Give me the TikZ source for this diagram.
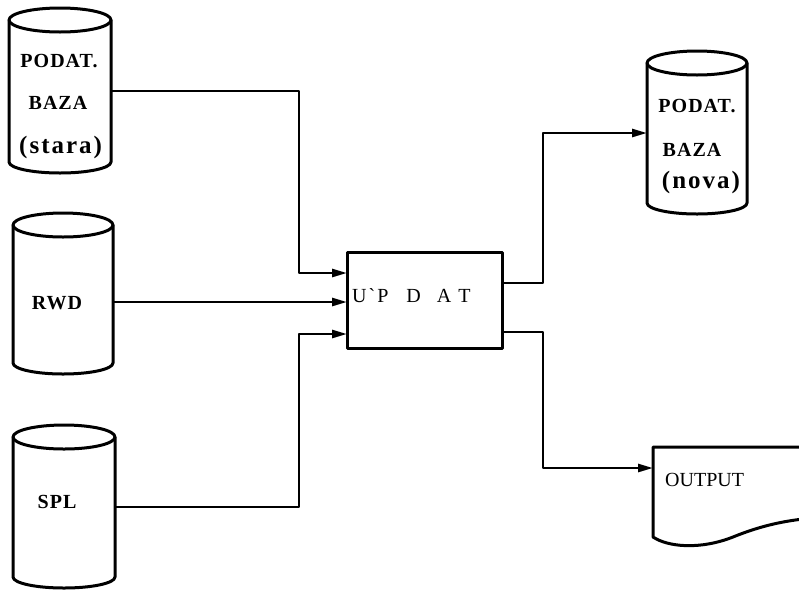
\documentclass[tikz,border=0pt]{standalone}
\usepackage{fontspec}
\setmainfont{Liberation Serif}
\newfontfamily\labelfont{Liberation Serif}[LetterSpace=5]
\newfontfamily\widefont{Liberation Serif}[LetterSpace=8]
\usetikzlibrary{arrows.meta,calc}

% outline of a disk-store cylinder around a body node: #1 node name, #2 half width
\newcommand\dbcylinder[2]{%
  \draw[outline] (#1.north west) -- (#1.south west)
    arc[start angle=180,end angle=360,x radius=#2,y radius=11pt]
    -- (#1.north east)
    arc[start angle=0,end angle=180,x radius=#2,y radius=12pt] -- cycle;
  \draw[outline] (#1.north west)
    arc[start angle=180,end angle=360,x radius=#2,y radius=12pt];}

\begin{document}
\begin{tikzpicture}[x=1pt,y=-1pt,
  outline/.style={line width=3pt,line join=round},
  wire/.style={line width=2.6pt,line join=round},
  arr/.style={wire,-{Triangle[length=15pt,width=8pt]}},
  body/.style={rectangle,inner sep=0pt,outer sep=0pt},
  lbl/.style={font=\labelfont\bfseries\fontsize{20}{22}\selectfont,inner sep=0pt,anchor=base},
  wlbl/.style={font=\widefont\bfseries\fontsize{25}{27}\selectfont,inner sep=0pt,anchor=base},
  plain/.style={font=\fontsize{20}{22}\selectfont,inner sep=0pt,anchor=base west}]
\useasboundingbox (0,0) rectangle (799,590);

% stores
\node[body,minimum width=102pt,minimum height=142pt] (c1) at (60,91) {};
\node[body,minimum width=100pt,minimum height=138pt] (c2) at (63,294) {};
\node[body,minimum width=102pt,minimum height=140pt] (c3) at (64,507) {};
\node[body,minimum width=100pt,minimum height=140pt] (c4) at (697,133) {};
\dbcylinder{c1}{51pt}
\dbcylinder{c2}{50pt}
\dbcylinder{c3}{51pt}
\dbcylinder{c4}{50pt}

\node[lbl] (c1a) at (59,67) {PODAT.};
\node[lbl] (c1b) at (58,109) {BAZA};
\node[wlbl,anchor=base west] (c1c) at (19,153) {(stara)};
\node[lbl] (c2a) at (57,309) {RWD};
\node[lbl] (c3a) at (57,508) {SPL};
\node[lbl] (c4a) at (697,112) {PODAT.};
\node[lbl] (c4b) at (692,156) {BAZA};
\node[wlbl] (c4c) at (701,188) {(nova)};

% program box
\node[body,draw,outline,minimum width=155pt,minimum height=96pt] (upd) at (424.5,300) {};
\node[plain] (updt) at (352,302)
  {U\hspace{2pt}\textasciigrave\hspace{2pt}P\hspace{18pt}D\hspace{16pt}A\hspace{7pt}T};

% printed output
\node[body,anchor=north west,minimum width=180pt,minimum height=90pt] (doc) at (653,447) {};
\draw[outline] (doc.north east) -- (doc.north west) -- (doc.south west)
  .. controls (668,547) and (700,550) .. (733,537)
  .. controls (760,526) and (790,518) .. (833,517);
\node[plain] (doct) at (665,486) {OUTPUT};

% ports on the box
\coordinate (in1) at ([yshift=27pt]upd.west);
\coordinate (in2) at ([yshift=-2pt]upd.west);
\coordinate (in3) at ([yshift=-34pt]upd.west);
\coordinate (out1) at ([yshift=17pt]upd.east);
\coordinate (out2) at ([yshift=-32pt]upd.east);
\coordinate (docin) at ([yshift=-21pt]doc.north west);

% inputs
\draw[arr] (c1.east) -| ($(in1)+(-48,0)$) -- (in1);
\draw[arr] (c2.east |- in2) -- (in2);
\draw[arr] (c3.east) -| ($(in3)+(-48,0)$) -- (in3);

% outputs
\draw[arr] (out1) -| ($(out1)+(41,0)$) |- (c4.west);
\draw[arr] (out2) -| ($(out2)+(41,0)$) |- (docin);
\end{tikzpicture}
\end{document}
